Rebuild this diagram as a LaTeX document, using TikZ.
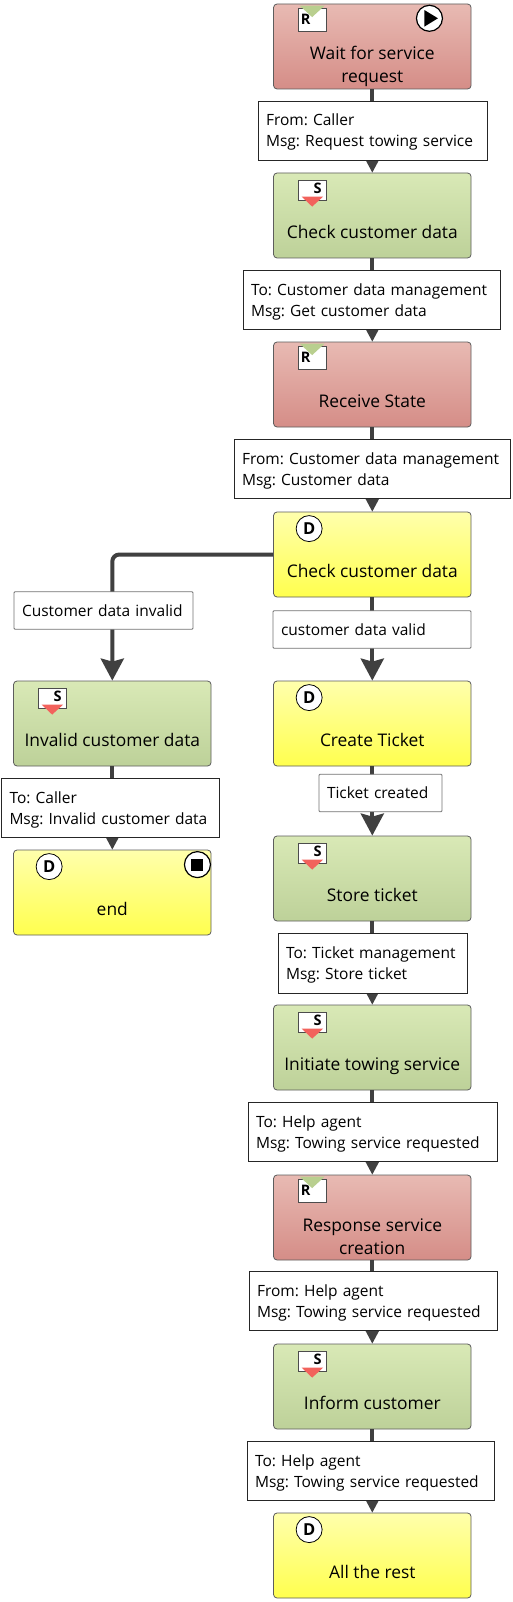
\documentclass[tikz,border=0pt]{standalone}
\usepackage{fontspec}
\setmainfont{Open Sans}
\frenchspacing
\usetikzlibrary{arrows.meta,positioning}

\definecolor{linegray}{HTML}{404040}
\definecolor{redtop}{HTML}{E8BAB3}
\definecolor{redbot}{HTML}{D58D87}
\definecolor{greentop}{HTML}{D9E9B6}
\definecolor{greenbot}{HTML}{BDD199}
\definecolor{yellowtop}{HTML}{FFFFAC}
\definecolor{yellowbot}{HTML}{FFFF4E}
\definecolor{tipgreen}{HTML}{B9CF8F}
\definecolor{tipred}{HTML}{F2625C}

\tikzset{
	statebox/.style={draw=linegray!85, line width=0.8pt, rounded corners=3.5pt,
		minimum width=197.5pt, minimum height=85pt, inner sep=0pt, align=center,
		font=\fontsize{17.4}{23}\selectfont, text height=46pt, text depth=0pt},
	twolines/.style={text height=73pt},
	receive/.style={statebox, top color=redtop, bottom color=redbot},
	send/.style={statebox, top color=greentop, bottom color=greenbot},
	decide/.style={statebox, top color=yellowtop, bottom color=yellowbot},
	msg/.style={draw=black!85, line width=0.7pt, fill=white, inner xsep=8pt, inner ysep=0pt,
		minimum height=59.5pt, align=left, font=\fontsize{15.5}{21}\selectfont,
		text height=14pt, text depth=24pt},
	cond/.style={msg, draw=black!55, line width=0.9pt, rounded corners=1pt, minimum height=37.5pt,
		text height=11pt, text depth=0pt},
	flow/.style={draw=linegray, line width=4pt, -{Stealth[length=22pt,width=23pt,inset=3pt]}},
	iconmark/.style={font=\bfseries\fontsize{14.5}{14.5}\selectfont, inner sep=0pt},
	recvicon/.pic={
		\draw[black!70, fill=white, line width=0.8pt] (25,5) rectangle (53.5,28);
		\fill[tipgreen] (26.5,2) -- (51.5,2) -- (39,13.5) -- cycle;
		\node[iconmark] (-r) at (32.5,16) {R};
	},
	sendicon/.pic={
		\draw[black!70, fill=white, line width=0.8pt] (25,8) rectangle (53.5,28);
		\fill[tipred] (28.5,24) -- (50,24) -- (39,34) -- cycle;
		\node[iconmark] (-s) at (44.5,16) {S};
	},
	decicon/.pic={
		\draw[black, fill=white, line width=0.8pt] (36,17) circle (13);
		\node[iconmark, font=\bfseries\fontsize{16.5}{16.5}\selectfont] (-d) at (36,17) {D};
	},
	starticon/.pic={
		\draw[black, fill=white, line width=1.2pt] (-42,14.7) circle (13);
		\fill[black] (-47,6.5) -- (-47,23) -- (-33.5,14.7) -- cycle;
	},
	stopicon/.pic={
		\draw[black, fill=white, line width=1.2pt] (-14,15) circle (13);
		\fill[black] (-20,9) rectangle (-8,21);
	}
}

\begin{document}
\begin{tikzpicture}[x=1pt,y=-1pt]
	\useasboundingbox[fill=white] (0,0) rectangle (512,1602);

	% states
	\node[receive,twolines] (wait) at (372.3,46.5) {Wait for service\\request};
	\node[send] (check) at (372.3,215.5) {Check customer data};
	\node[receive] (state) at (372.3,384.5) {Receive State};
	\node[decide] (valid) at (372.3,554.5) {Check customer data};
	\node[decide] (ticket) at (372.3,723.5) {Create Ticket};
	\node[send] (store) at (372.3,878.5) {Store ticket};
	\node[send] (towing) at (372.3,1047.5) {Initiate towing service};
	\node[receive,twolines] (response) at (372.3,1217.5) {Response service\\creation};
	\node[send] (inform) at (372.3,1386.5) {Inform customer};
	\node[decide] (rest) at (372.3,1555.5) {All the rest};
	\node[send] (invalid) at (112.3,723.5) {Invalid customer data};
	\node[decide] (end) at (112.3,892.5) {end};

	% icons
	\foreach \state in {wait,state,response}
	\pic (\state) at (\state.north west) {recvicon};
	\foreach \state in {check,store,towing,inform,invalid}
	\pic (\state) at (\state.north west) {sendicon};
	\foreach \state in {valid,ticket,rest,end}
	\pic (\state) at (\state.north west) {decicon};
	\pic at (wait.north east) {starticon};
	\pic at (end.north east) {stopicon};

	% transition paths
	\foreach \from/\to in {wait/check,check/state,state/valid,valid/ticket,ticket/store,
		store/towing,towing/response,response/inform,inform/rest,invalid/end}
	\draw[flow] (\from) -- (\to);

	\draw[flow,rounded corners=7pt] (valid.west) -| (invalid.north);

	% transition labels
	\node[msg,text width=213pt] (l1) at (372.5,131) {From: Caller\\Msg: Request towing service};
	\node[msg,text width=241pt] (l2) at (371.5,300) {To: \mbox{Customer data management}\\Msg: Get customer data};
	\node[msg,text width=260pt] (l3) at (372,469) {From: \mbox{Customer data management}\\Msg: Customer data};
	\node[cond,text width=182pt] (l4) at (372,629.5) {customer data valid};
	\node[cond,text width=107pt] (l5) at (380.5,793) {Ticket created};
	\node[cond,text width=163pt] (l6) at (103.5,610.5) {Customer data invalid};
	\node[msg,text width=202pt] (l7) at (110.5,808) {To: Caller\\Msg: Invalid customer data};
	\node[msg,text width=173pt] (l8) at (372.5,963.5) {To: Ticket management\\Msg: Store ticket};
	\node[msg,text width=233pt] (l9) at (372.5,1132) {To: Help agent\\Msg: Towing service requested};
	\node[msg,text width=232pt] (l10) at (373,1301) {From: Help agent\\Msg: Towing service requested};
	\node[msg,text width=231pt] (l11) at (370.5,1471) {To: Help agent\\Msg: Towing service requested};

\end{tikzpicture}
\end{document}
